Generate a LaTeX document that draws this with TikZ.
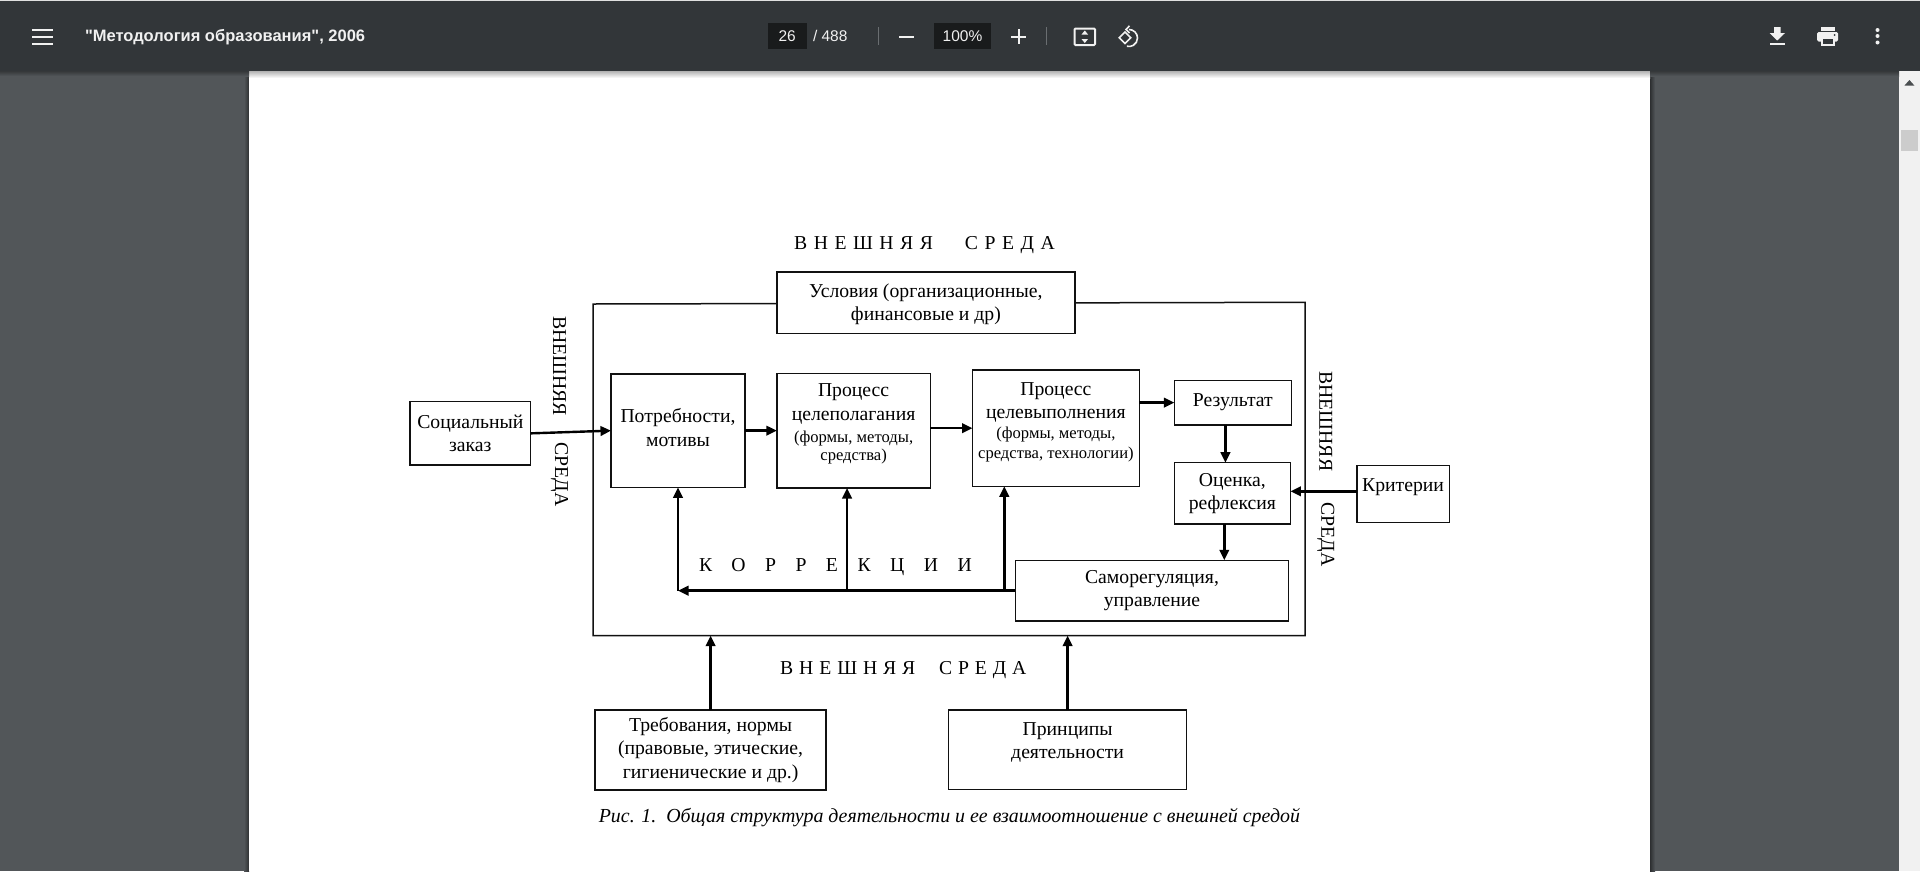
\documentclass[tikz,border=0pt]{standalone}
\usepackage{fontspec}
\setmainfont{Liberation Serif}
\newfontfamily\uifont{Liberation Sans}
\newfontfamily\spacedA[LetterSpace=8]{Liberation Serif}
\newfontfamily\spacedB[LetterSpace=5]{Liberation Serif}
\newfontfamily\spacedC[LetterSpace=99]{Liberation Serif}
\usetikzlibrary{arrows.meta}
\definecolor{barc}{HTML}{323639}
\definecolor{bgc}{HTML}{525659}
\definecolor{icon}{HTML}{F1F1F1}
\definecolor{fieldc}{HTML}{191B1C}
\definecolor{sepc}{HTML}{6A6E71}
\definecolor{inkc}{HTML}{111111}
\newcommand\bigf{\fontsize{19.7}{23.4}\selectfont}
\newcommand\smf{\fontsize{16.6}{19.8}\selectfont}
\newcommand\pad[1]{\\[#1]\mbox{}}
\tikzset{
  boxn/.style={draw=inkc,line width=1.5pt,fill=white,outer sep=0pt,inner sep=0pt,align=center,font=\bigf,text=black},
  lab/.style={inner sep=0pt,outer sep=0pt,font=\bigf,text=black},
  arr/.style={draw=black,line width=2.4pt,-{Triangle[length=10.5pt,width=9.5pt]}},
  uit/.style={inner sep=0pt,outer sep=0pt,text=icon,font=\uifont\fontsize{15.5}{18}\selectfont},
  ico/.style={draw=icon,line width=2pt},
  sep/.style={draw=sepc,line width=1pt},
}
\begin{document}
\begin{tikzpicture}[x=1pt,y=-1pt]
\useasboundingbox (0,0) rectangle (1920,871);
% viewer background and page
\fill[bgc] (0,0) rectangle (1920,871);
\shade[left color=bgc,right color=black!45!bgc] (244,71) rectangle (249,871);
\fill[white] (249,71) rectangle (1650,871);
\shade[left color=black!45!bgc,right color=bgc] (1650,71) rectangle (1655,871);
\fill[icon] (1899,71) rectangle (1920,871);
\fill[black!20!white] (1901,130) rectangle (1918,151);
\fill[bgc!90!black] (1904.5,85.5) -- (1909.4,80) -- (1914.3,85.5) -- cycle;
% toolbar shadow and toolbar
\shade[top color=black!30!white,bottom color=white] (249,71) rectangle (1650,78);
\shade[top color=black!35!bgc,bottom color=bgc] (0,71) rectangle (249,76);
\shade[top color=black!35!bgc,bottom color=bgc] (1650,71) rectangle (1899,76);
\fill[barc] (0,1) rectangle (1920,71);
\fill[black!12!white] (0,0) rectangle (1920,1);
% hamburger
\foreach \yy in {29.5,36.5,43.5} \fill[icon] (32,\yy-1) rectangle (52.6,\yy+1);
\node[uit,anchor=west,font=\uifont\bfseries\fontsize{16.5}{18}\selectfont] (title) at (85,37) {"Методология образования", 2006};
% page number controls
\fill[fieldc] (768,23) rectangle (806.5,49);
\node[uit] (pnum) at (787.2,36) {26};
\node[uit,anchor=west] (ptotal) at (813,36) {/ 488};
\draw[sep] (878.4,27) -- (878.4,45);
\fill[icon] (899,35.5) rectangle (914,37.5);
\fill[fieldc] (934,23) rectangle (991,49);
\node[uit] (zoomv) at (962.5,36) {100\%};
\fill[icon] (1011,35.5) rectangle (1026,37.5);
\fill[icon] (1017.5,29) rectangle (1019.5,44);
\draw[sep] (1046.5,27) -- (1046.5,45);
% fit to page icon
\draw[ico,rounded corners=1pt] (1074.5,28.5) rectangle (1095,45);
\fill[icon] (1081.5,34.5) -- (1084.8,30.5) -- (1088,34.5) -- cycle;
\fill[icon] (1081.5,39) -- (1084.8,43) -- (1088,39) -- cycle;
% rotate icon
\draw[ico,line width=1.6pt] (1129,29.5) arc[start angle=-90,end angle=105,radius=8.5];
\draw[ico,line width=1.6pt] (1129.5,25.8) -- (1126,29.5) -- (1129.5,33);
\draw[ico,line width=1.6pt,fill=barc] (1119.2,37.7) -- (1125,31.9) -- (1130.8,37.7) -- (1125,43.5) -- cycle;
% download icon
\fill[icon] (1774,27) -- (1780.5,27) -- (1780.5,33) -- (1785,33) -- (1777.2,40.5) -- (1769.5,33) -- (1774,33) -- cycle;
\fill[icon] (1770,43) rectangle (1785,44.5);
% printer icon
\fill[icon] (1821,27) rectangle (1834.5,31);
\fill[icon,rounded corners=1.5pt] (1817,32) rectangle (1838,41.5);
\fill[icon] (1821,37) rectangle (1834.5,46);
\fill[barc] (1823,39) rectangle (1832.5,44);
\fill[barc] (1834.7,35) circle (1);
% kebab icon
\foreach \yy in {30,36,42.5} \fill[icon] (1877.5,\yy) circle (2);

% ---- diagram ----
\coordinate (ola) at (593,304);
\coordinate (olb) at (1305,302.3);
\coordinate (olc) at (1305,635.7);
\coordinate (old) at (593,635.7);
\draw[draw=inkc,line width=1.5pt] (ola) -- (olb) -- (olc) -- (old) -- cycle;

\node[lab] (envtop) at (924.5,245) {\spacedA В Н Е Ш Н Я Я \ \ \ \hspace{6pt}С Р Е Д А};
\node[lab] (envbot) at (903.3,670) {\spacedB В Н Е Ш Н Я Я \ \ \ С Р Е Д А};
\node[lab,rotate=-90] (envl1) at (559.5,366) {ВНЕШНЯЯ};
\node[lab,rotate=-90] (envl2) at (559.5,474.5) {СРЕДА};
\node[lab,rotate=-90] (envr1) at (1325.7,421.3) {ВНЕШНЯЯ};
\node[lab,rotate=-90] (envr2) at (1325.7,534.7) {СРЕДА};
\node[lab] (corr) at (835.5,567.5) {\spacedC КОРРЕКЦИИ};

\node[boxn,minimum width=298.2pt,minimum height=61.3pt,text height=40pt] (cond) at (925.9,302.65) {Условия (организационные,\\финансовые и др)};
\node[boxn,minimum width=120.7pt,minimum height=63.3pt] (soc) at (470.35,433.35) {Социальный\\заказ};
\node[boxn,minimum width=134pt,minimum height=113.3pt] (need) at (678,430.65) {Потребности,\\мотивы\pad{-17pt}};
\node[boxn,minimum width=153.6pt,minimum height=114.7pt] (goal) at (853.6,430.65) {Процесс\\целеполагания\\[-1.5pt]\smf (формы, методы,\\[-5pt]\smf средства)\pad{-6.5pt}};
\node[boxn,minimum width=166.8pt,minimum height=116.3pt] (proc) at (1055.9,428.15) {Процесс\\целевыполнения\\[-3.5pt]\smf (формы, методы,\\[-4pt]\smf средства, технологии)\pad{-8pt}};
\node[boxn,minimum width=117.1pt,minimum height=44.7pt] (res) at (1232.85,402.65) {Результат};
\node[boxn,minimum width=116.1pt,minimum height=61.3pt] (est) at (1232.35,493.35) {Оценка,\\рефлексия};
\node[boxn,minimum width=273.2pt,minimum height=60.7pt] (self) at (1152,590.65) {Саморегуляция,\\управление};
\node[boxn,minimum width=92.5pt,minimum height=56.6pt] (crit) at (1403.05,494) {Критерии\pad{-5pt}};
\node[boxn,minimum width=230.8pt,minimum height=80pt] (req) at (710.6,750) {Требования, нормы\\(правовые, этические,\\гигиенические и др.)};
\node[boxn,minimum width=238pt,minimum height=79.3pt] (pri) at (1067.6,749.65) {Принципы\\деятельности\pad{-5pt}};

\node[lab,font=\itshape\fontsize{19.9}{22}\selectfont] (cap) at (949.4,817.7) {Рис. 1.\ \ Общая структура деятельности и ее взаимоотношение с внешней средой};

% helper positions for connectors
\coordinate (rx) at (1225.4,0);
\coordinate (ex) at (1224.3,0);
\coordinate (gx) at (847,0);
\coordinate (px) at (1004.3,0);
\coordinate (cy) at (0,491.3);
\coordinate (corner) at (need.south |- self.west);

\draw[arr] (soc.east) -- (need.west);
\draw[arr] (need.east) -- (goal.west);
\draw[arr] (goal.east |- proc.west) -- (proc.west);
\draw[arr] (proc.east |- res.west) -- (res.west);
\draw[arr] (res.south -| rx) -- (est.north -| rx);
\draw[arr] (est.south -| ex) -- (self.north -| ex);
\draw[arr] (crit.west |- cy) -- (est.east |- cy);
\draw[arr] (self.west) -- (corner);
\draw[arr] (corner) -- (need.south);
\draw[arr] (self.west -| gx) -- (goal.south -| gx);
\draw[arr] (self.west -| px) -- (proc.south -| px);
\draw[arr] (req.north) -- (req.north |- old);
\draw[arr] (pri.north) -- (pri.north |- old);
\end{tikzpicture}
\end{document}
